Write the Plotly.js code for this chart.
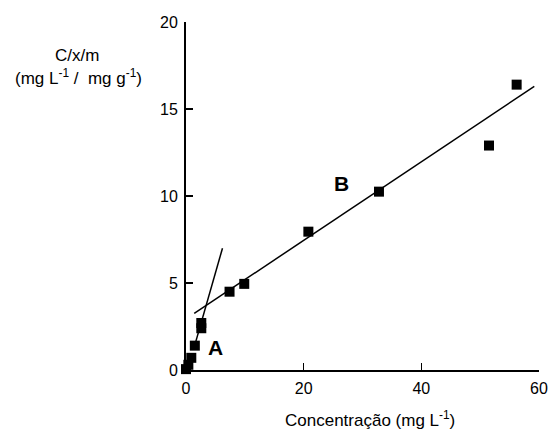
<!DOCTYPE html>
<html>
<head>
<meta charset="utf-8">
<script src="https://cdn.plot.ly/plotly-3.0.1.min.js"></script>
<style>html,body{margin:0;padding:0;background:#fff;}#plot{width:552px;height:431px;}</style>
</head>
<body>
<div id="plot"></div>
<script>
// Data
const concX = [0.0, 0.4, 0.9, 1.5, 2.6, 2.6, 7.4, 9.9, 20.8, 32.8, 51.5, 56.2];
const ratioY = [0.05, 0.3, 0.7, 1.4, 2.4, 2.7, 4.5, 4.95, 7.95, 10.25, 12.9, 16.4];
// Fitted lines (endpoints as drawn)
const lineAX = [1.3, 6.2];
const lineAY = [1.2, 7.0];
const lineBX = [1.4, 59.2];
const lineBY = [3.25, 16.3];
const xTicks = [0, 20, 40, 60];
const yTicks = [0, 5, 10, 15, 20];

const W = 552, H = 431;
const L = 186, R = 13, T = 22, B = 61;
const pw = W - L - R, ph = H - T - B;
function px(x){return (x - L)/pw;}
function py(y){return (H - B - y)/ph;}

const font = 'Liberation Sans, Arial, Helvetica, sans-serif';

const traces = [
  {x: lineAX, y: lineAY, mode: 'lines', line: {color: '#000', width: 1.5}, hoverinfo: 'skip', cliponaxis: false},
  {x: lineBX, y: lineBY, mode: 'lines', line: {color: '#000', width: 1.5}, hoverinfo: 'skip', cliponaxis: false},
  {x: concX, y: ratioY, mode: 'markers', marker: {symbol: 'square', size: 10, color: '#000'}, cliponaxis: false}
];

const layout = {
  width: W, height: H,
  margin: {l: L, r: R, t: T, b: B},
  showlegend: false,
  paper_bgcolor: '#fff', plot_bgcolor: '#fff',
  font: {family: font, size: 16, color: '#000'},
  xaxis: {
    range: [0, 60], tickvals: xTicks, ticks: 'inside', ticklen: 7, tickwidth: 1.5, tickcolor: '#000',
    showline: true, linecolor: '#000', linewidth: 2, showgrid: false, zeroline: false,
    ticklabelstandoff: 3, tickfont: {size: 16, family: font}
  },
  yaxis: {
    range: [0, 20], tickvals: yTicks, ticks: 'inside', ticklen: 7, tickwidth: 1.5, tickcolor: '#000',
    showline: true, linecolor: '#000', linewidth: 2, showgrid: false, zeroline: false,
    ticklabelstandoff: 3, tickfont: {size: 16, family: font}
  },
  annotations: [
    {text: 'C/x/m', xref: 'paper', yref: 'paper', x: px(77), y: py(55), xanchor: 'center', yanchor: 'middle', showarrow: false, font: {size: 17}},
    {text: '(mg L<sup>-1</sup> /  mg g<sup>-1</sup>)', xref: 'paper', yref: 'paper', x: px(78), y: py(77), xanchor: 'center', yanchor: 'middle', showarrow: false, font: {size: 17}},
    {text: 'Concentração (mg L<sup>-1</sup>)', xref: 'paper', yref: 'paper', x: px(370), y: py(419), xanchor: 'center', yanchor: 'middle', showarrow: false, font: {size: 17}},
    {text: '<b>A</b>', x: 5.0, y: 1.3, showarrow: false, font: {size: 21}},
    {text: '<b>B</b>', x: 26.5, y: 10.7, showarrow: false, font: {size: 21}}
  ]
};

Plotly.newPlot('plot', traces, layout, {staticPlot: true, displayModeBar: false});
</script>
</body>
</html>
